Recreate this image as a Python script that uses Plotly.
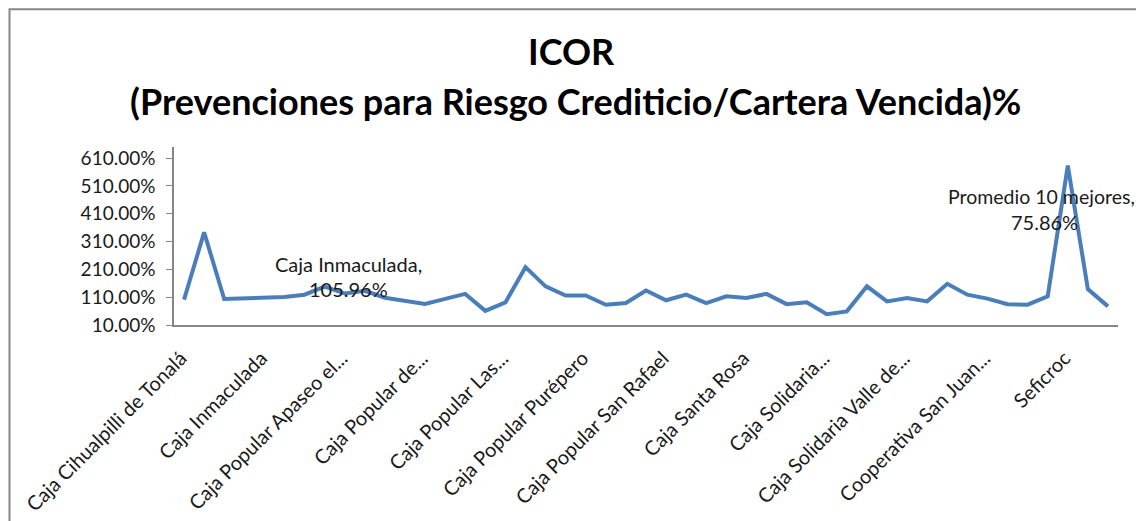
import plotly.graph_objects as go

categories = [
    "Caja Cihualpilli de Tonalá", "Caja Depac Poblana", "Caja Gonzalo Vega", "Caja Hipódromo",
    "Caja Inmaculada", "Caja Libertad", "Caja Morelia Valladolid", "Caja Popular 9 de Agosto",
    "Caja Popular Apaseo el Alto", "Caja Popular Cerano", "Caja Popular Cristo Rey", "Caja Popular Dolores Hidalgo",
    "Caja Popular de Ahorros Yucatán", "Caja Popular Florencio Rosas", "Caja Popular Gonzalo Vega", "Caja Popular Isidro Fabela",
    "Caja Popular Las Huastecas", "Caja Popular Mexicana", "Caja Popular Nuestra Señora", "Caja Popular Pio XII",
    "Caja Popular Purépero", "Caja Popular Rosario", "Caja Popular San Bernardino", "Caja Popular San Pablo",
    "Caja Popular San Rafael", "Caja Popular Tamazula", "Caja Real del Potosí", "Caja San Nicolás",
    "Caja Santa Rosa", "Caja SMG", "Caja Sol", "Caja Solidaria Chiapas",
    "Caja Solidaria Kafen Tomin", "Caja Solidaria La Huerta", "Caja Solidaria Nueva Galicia", "Caja Solidaria Tepatitlán",
    "Caja Solidaria Valle de Guadiana", "Caja Tepeyac", "Caja Yanga", "Coopdesarrollo",
    "Cooperativa San Juan Bautista", "Cooperativa Sinaloa", "Fincomún", "Promedio 10 mejores",
    "Seficroc", "Sociedad Cooperativa Acreimex", "Unión Cooperativa",
]

icor_values = [
    101, 343, 103.5, 106, 107, 111, 119, 148, 123, 133,
    108, 98, 86, 104, 122, 61, 91, 218, 149, 116,
    116, 83, 89, 134, 99, 119, 89, 113, 107, 122,
    85, 92, 49, 59, 149, 95, 107, 95, 158, 119,
    105, 85, 83, 113, 583, 139, 77,
]

tick_labels = [
    "Caja Cihualpilli de Tonalá", "Caja Inmaculada", "Caja Popular Apaseo el...", "Caja Popular de...",
    "Caja Popular Las...", "Caja Popular Purépero", "Caja Popular San Rafael", "Caja Santa Rosa",
    "Caja Solidaria...", "Caja Solidaria Valle de...", "Cooperativa San Juan...", "Seficroc",
]

y_ticks = [10, 110, 210, 310, 410, 510, 610]

FONT = "Lato"
TXT = "#1a1a1a"

# The page body adds an 8 px offset, so the figure is shrunk and margins shifted.
PX0, PX1, PY0, PY1 = 174, 1118, 147, 325.3   # target on-screen plot area
OFF = 8
W, H = 1144 - OFF, 521 - OFF

fig = go.Figure()
fig.add_trace(go.Scatter(
    x=categories, y=icor_values, mode="lines",
    line=dict(color="#4A7EBB", width=4),
    hoverinfo="x+y",
))

fig.update_layout(
    width=W, height=H,
    margin=dict(l=PX0 - OFF, r=W - (PX1 - OFF), t=PY0 - OFF, b=H - (PY1 - OFF), autoexpand=False),
    paper_bgcolor="white", plot_bgcolor="white",
    showlegend=False,
    font=dict(family=FONT, color=TXT, size=19),
    xaxis=dict(
        type="category", automargin=False,
        range=[-0.5, len(categories) - 0.5],
        tickmode="array",
        tickvals=categories[::4],
        ticktext=tick_labels,
        tickangle=-45,
        ticklabelstandoff=12, ticklabelshift=-3,
        showgrid=False, zeroline=False,
        showline=True, linecolor="#868686", linewidth=1.5,
        ticks="", tickfont=dict(family=FONT, size=20, color=TXT),
    ),
    yaxis=dict(
        automargin=False,
        range=[10, 650],
        tickmode="array", tickvals=y_ticks,
        ticktext=[f"{v:.2f}%" for v in y_ticks],
        showgrid=False, zeroline=False,
        showline=True, linecolor="#868686", linewidth=1.5,
        ticks="outside", ticklen=6, tickcolor="#868686",
        ticklabelstandoff=7,
        tickfont=dict(family=FONT, size=19, color=TXT),
    ),
)

pw, ph = PX1 - PX0, PY1 - PY0


def px(x):
    return (x - PX0) / pw


def py(y):
    return (PY1 - y) / ph


annotations = [
    dict(text="<b>ICOR</b>", xref="paper", yref="paper", x=px(571), y=py(50.5),
         showarrow=False, font=dict(family=FONT, size=36, color="#000"), xanchor="center", yanchor="middle"),
    dict(text="<b>(Prevenciones para Riesgo Crediticio/Cartera Vencida)%</b>", xref="paper", yref="paper",
         x=px(575), y=py(101),
         showarrow=False, font=dict(family=FONT, size=36, color="#000"), xanchor="center", yanchor="middle"),
    dict(text="Caja Inmaculada,", x=8.2, y=230, xref="x", yref="y", showarrow=False,
         font=dict(family=FONT, size=20, color=TXT), xanchor="center", yanchor="middle"),
    dict(text="105.96%", x=8.2, y=141, xref="x", yref="y", showarrow=False,
         font=dict(family=FONT, size=20, color=TXT), xanchor="center", yanchor="middle"),
    dict(text="Promedio 10 mejores,", x=42.7, y=471, xref="x", yref="y", showarrow=False,
         font=dict(family=FONT, size=19.5, color=TXT), xanchor="center", yanchor="middle"),
    dict(text="75.86%", x=42.85, y=381, xref="x", yref="y", showarrow=False,
         font=dict(family=FONT, size=20, color=TXT), xanchor="center", yanchor="middle"),
]
fig.update_layout(annotations=annotations)

# chart frame (extends beyond the visible area on right/bottom)
fig.add_shape(type="rect", xref="paper", yref="paper",
              x0=px(OFF + 1.5), x1=px(1160), y0=py(540), y1=py(9),
              line=dict(color="#868686", width=2), fillcolor="rgba(0,0,0,0)", layer="below")

fig.write_html("out.html")
